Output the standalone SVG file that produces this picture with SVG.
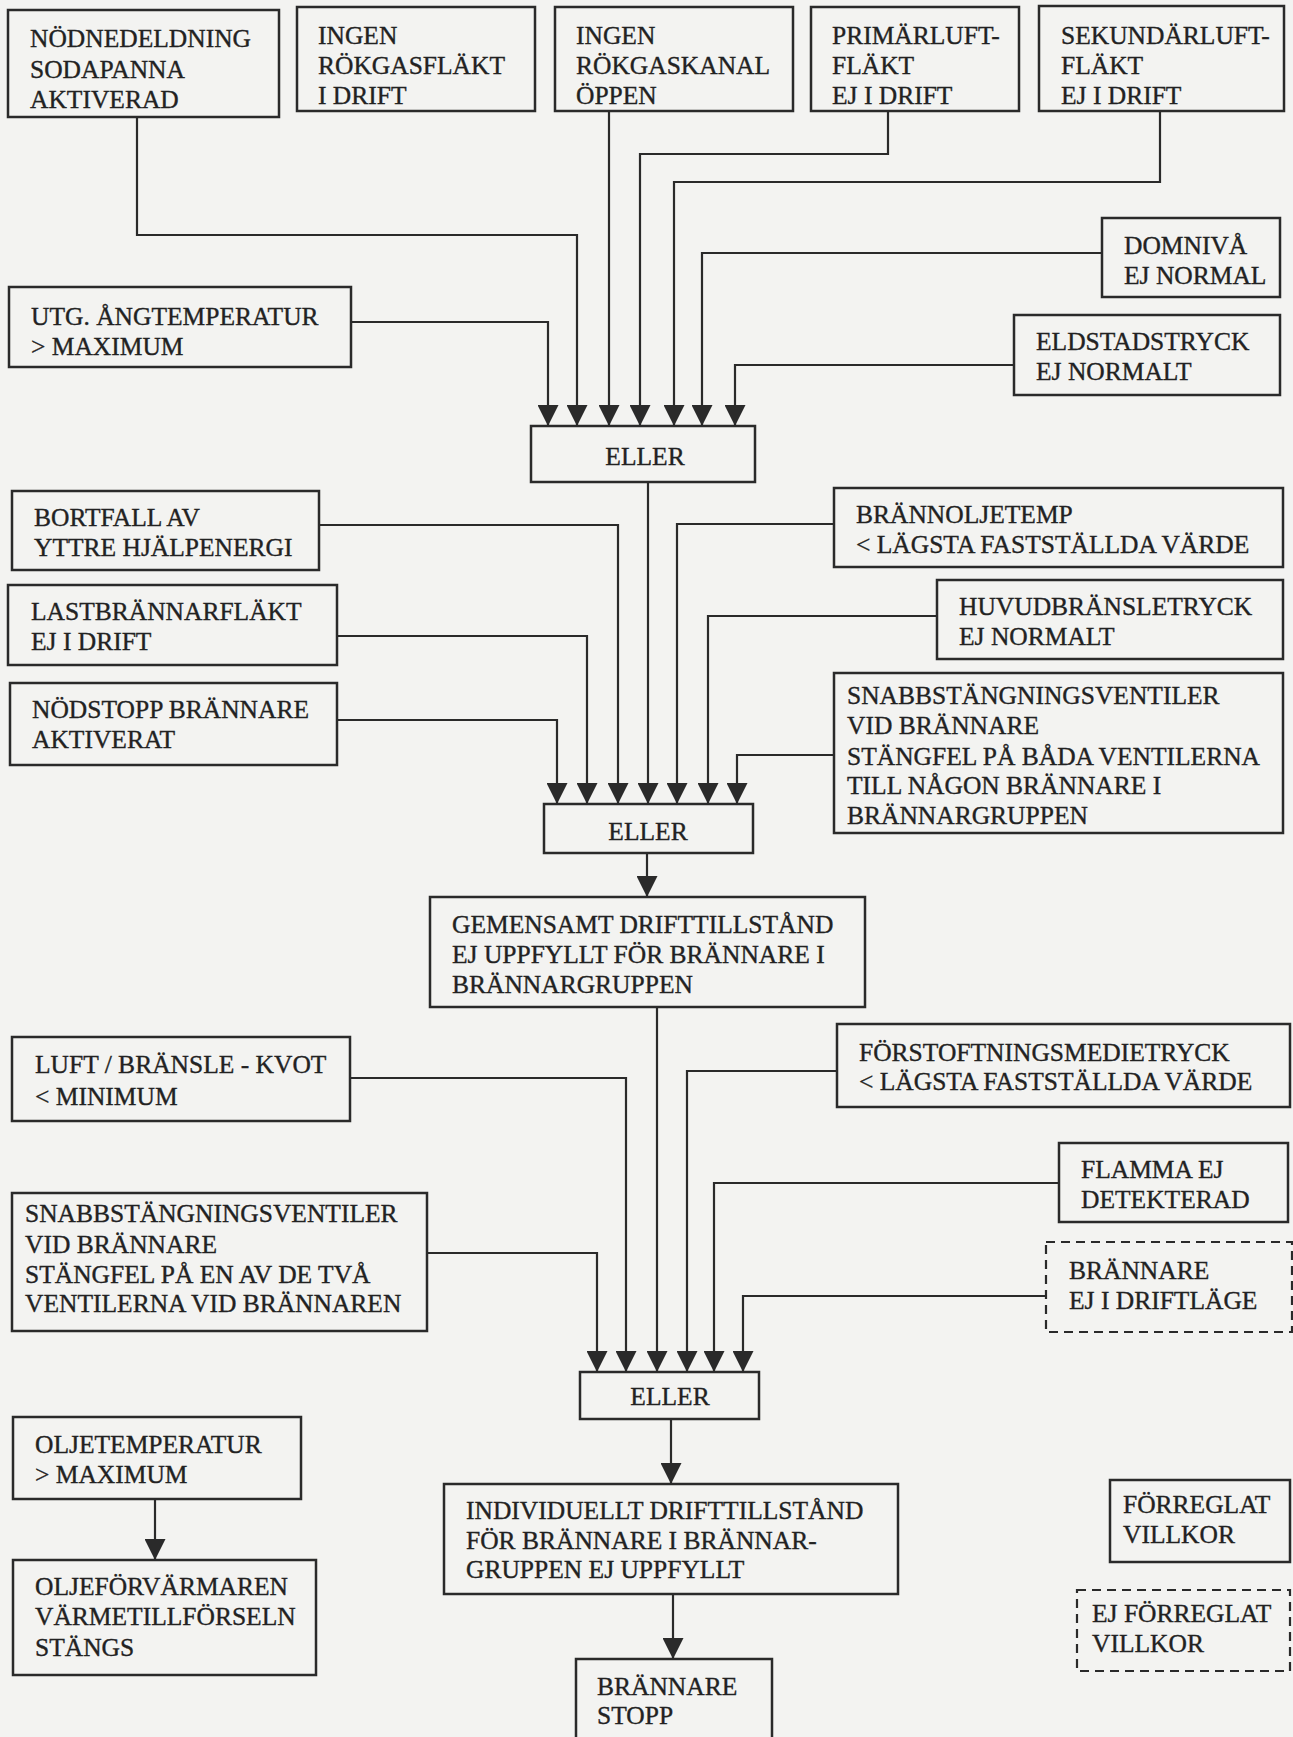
<svg xmlns="http://www.w3.org/2000/svg" width="1293" height="1737" viewBox="0 0 1293 1737">
<style>
.b{fill:none;stroke:#2a2a2a;stroke-width:2.5}
.d{fill:none;stroke:#2a2a2a;stroke-width:2.2;stroke-dasharray:9 6}
.c{fill:none;stroke:#2a2a2a;stroke-width:2.2}
text{font-family:"Liberation Serif","Times New Roman",serif;font-size:25.5px;fill:#222;stroke:#222;stroke-width:0.35}
.m{text-anchor:middle}
</style>
<defs>
<marker id="ah" viewBox="0 0 20 20" refX="20" refY="10" markerWidth="21" markerHeight="21" markerUnits="userSpaceOnUse" orient="auto">
<path d="M0,0 L20,10 L0,20 z" fill="#2a2a2a"/>
</marker>
</defs>
<rect x="0" y="0" width="1293" height="1737" fill="#f3f3f1"/>

<g id="connectors">
<path class="c" d="M137,117 V235 H577 V426" marker-end="url(#ah)"/>
<path class="c" d="M351,322 H548 V426" marker-end="url(#ah)"/>
<path class="c" d="M609,111 V426" marker-end="url(#ah)"/>
<path class="c" d="M888,111 V154 H640 V426" marker-end="url(#ah)"/>
<path class="c" d="M1160,111 V182 H674 V426" marker-end="url(#ah)"/>
<path class="c" d="M1102,253 H702 V426" marker-end="url(#ah)"/>
<path class="c" d="M1014,365 H735 V426" marker-end="url(#ah)"/>

<path class="c" d="M319,525 H618 V804" marker-end="url(#ah)"/>
<path class="c" d="M337,636 H587 V804" marker-end="url(#ah)"/>
<path class="c" d="M337,720 H557 V804" marker-end="url(#ah)"/>
<path class="c" d="M648,482 V804" marker-end="url(#ah)"/>
<path class="c" d="M834,524 H677 V804" marker-end="url(#ah)"/>
<path class="c" d="M937,616 H708 V804" marker-end="url(#ah)"/>
<path class="c" d="M834,755 H737 V804" marker-end="url(#ah)"/>

<path class="c" d="M647,853 V897" marker-end="url(#ah)"/>

<path class="c" d="M350,1078 H626 V1372" marker-end="url(#ah)"/>
<path class="c" d="M427,1253 H597 V1372" marker-end="url(#ah)"/>
<path class="c" d="M657,1007 V1372" marker-end="url(#ah)"/>
<path class="c" d="M837,1071 H687 V1372" marker-end="url(#ah)"/>
<path class="c" d="M1059,1183 H714 V1372" marker-end="url(#ah)"/>
<path class="c" d="M1046,1296 H743 V1372" marker-end="url(#ah)"/>

<path class="c" d="M671,1419 V1484" marker-end="url(#ah)"/>
<path class="c" d="M673,1594 V1659" marker-end="url(#ah)"/>
<path class="c" d="M155,1499 V1560" marker-end="url(#ah)"/>
</g>

<g id="n-nodnedeldning"><rect class="b" x="8" y="10" width="271" height="107"/>
<text x="30" y="47">NÖDNEDELDNING</text><text x="30" y="78">SODAPANNA</text><text x="30" y="108">AKTIVERAD</text></g>

<g id="n-rokgasflakt"><rect class="b" x="297" y="7" width="238" height="104"/>
<text x="318" y="44">INGEN</text><text x="318" y="74">RÖKGASFLÄKT</text><text x="318" y="104">I DRIFT</text></g>

<g id="n-rokgaskanal"><rect class="b" x="555" y="7" width="238" height="104"/>
<text x="576" y="44">INGEN</text><text x="576" y="74">RÖKGASKANAL</text><text x="576" y="104">ÖPPEN</text></g>

<g id="n-primarluft"><rect class="b" x="811" y="7" width="208" height="104"/>
<text x="832" y="44">PRIMÄRLUFT-</text><text x="832" y="74">FLÄKT</text><text x="832" y="104">EJ I DRIFT</text></g>

<g id="n-sekundarluft"><rect class="b" x="1039" y="6" width="245" height="105"/>
<text x="1061" y="44">SEKUNDÄRLUFT-</text><text x="1061" y="74">FLÄKT</text><text x="1061" y="104">EJ I DRIFT</text></g>

<g id="n-domniva"><rect class="b" x="1102" y="218" width="178" height="79"/>
<text x="1124" y="254">DOMNIVÅ</text><text x="1124" y="284">EJ NORMAL</text></g>

<g id="n-eldstadstryck"><rect class="b" x="1014" y="315" width="266" height="80"/>
<text x="1036" y="350">ELDSTADSTRYCK</text><text x="1036" y="380">EJ NORMALT</text></g>

<g id="n-utg"><rect class="b" x="9" y="287" width="342" height="80"/>
<text x="31" y="325">UTG. ÅNGTEMPERATUR</text><text x="31" y="355">&gt; MAXIMUM</text></g>

<g id="n-eller1"><rect class="b" x="531" y="426" width="224" height="56"/>
<text class="m" x="645" y="465">ELLER</text></g>

<g id="n-bortfall"><rect class="b" x="12" y="491" width="307" height="79"/>
<text x="34" y="526">BORTFALL AV</text><text x="34" y="556">YTTRE HJÄLPENERGI</text></g>

<g id="n-lastbrannarflakt"><rect class="b" x="8" y="585" width="329" height="80"/>
<text x="31" y="620">LASTBRÄNNARFLÄKT</text><text x="31" y="650">EJ I DRIFT</text></g>

<g id="n-nodstopp"><rect class="b" x="10" y="683" width="327" height="82"/>
<text x="32" y="718">NÖDSTOPP BRÄNNARE</text><text x="32" y="748">AKTIVERAT</text></g>

<g id="n-brannoljetemp"><rect class="b" x="834" y="488" width="449" height="79"/>
<text x="856" y="523">BRÄNNOLJETEMP</text><text x="856" y="553">&lt; LÄGSTA FASTSTÄLLDA VÄRDE</text></g>

<g id="n-huvudbransletryck"><rect class="b" x="937" y="580" width="346" height="79"/>
<text x="959" y="615">HUVUDBRÄNSLETRYCK</text><text x="959" y="645">EJ NORMALT</text></g>

<g id="n-snabb-bada"><rect class="b" x="834" y="673" width="449" height="160"/>
<text x="847" y="704">SNABBSTÄNGNINGSVENTILER</text><text x="847" y="734">VID BRÄNNARE</text><text x="847" y="765">STÄNGFEL PÅ BÅDA VENTILERNA</text><text x="847" y="794">TILL NÅGON BRÄNNARE I</text><text x="847" y="824">BRÄNNARGRUPPEN</text></g>

<g id="n-eller2"><rect class="b" x="544" y="804" width="209" height="49"/>
<text class="m" x="648" y="840">ELLER</text></g>

<g id="n-gemensamt"><rect class="b" x="430" y="897" width="435" height="110"/>
<text x="452" y="933">GEMENSAMT DRIFTTILLSTÅND</text><text x="452" y="963">EJ UPPFYLLT FÖR BRÄNNARE I</text><text x="452" y="993">BRÄNNARGRUPPEN</text></g>

<g id="n-luftbransle"><rect class="b" x="12" y="1037" width="338" height="84"/>
<text x="35" y="1073">LUFT / BRÄNSLE - KVOT</text><text x="35" y="1105">&lt; MINIMUM</text></g>

<g id="n-snabb-en"><rect class="b" x="12" y="1193" width="415" height="138"/>
<text x="25" y="1222">SNABBSTÄNGNINGSVENTILER</text><text x="25" y="1253">VID BRÄNNARE</text><text x="25" y="1283">STÄNGFEL PÅ EN AV DE TVÅ</text><text x="25" y="1312">VENTILERNA VID BRÄNNAREN</text></g>

<g id="n-forstoftning"><rect class="b" x="837" y="1024" width="453" height="83"/>
<text x="859" y="1061">FÖRSTOFTNINGSMEDIETRYCK</text><text x="859" y="1090">&lt; LÄGSTA FASTSTÄLLDA VÄRDE</text></g>

<g id="n-flamma"><rect class="b" x="1059" y="1143" width="229" height="79"/>
<text x="1081" y="1178">FLAMMA  EJ</text><text x="1081" y="1208">DETEKTERAD</text></g>

<g id="n-brannare-driftlage"><rect class="d" x="1046" y="1242" width="246" height="90"/>
<text x="1069" y="1279">BRÄNNARE</text><text x="1069" y="1309">EJ  I DRIFTLÄGE</text></g>

<g id="n-eller3"><rect class="b" x="580" y="1372" width="179" height="47"/>
<text class="m" x="670" y="1405">ELLER</text></g>

<g id="n-individuellt"><rect class="b" x="444" y="1484" width="454" height="110"/>
<text x="466" y="1519">INDIVIDUELLT DRIFTTILLSTÅND</text><text x="466" y="1549">FÖR BRÄNNARE  I BRÄNNAR-</text><text x="466" y="1578">GRUPPEN EJ UPPFYLLT</text></g>

<g id="n-brannare-stopp"><rect class="b" x="576" y="1659" width="196" height="90"/>
<text x="597" y="1695">BRÄNNARE</text><text x="597" y="1724">STOPP</text></g>

<g id="n-oljetemperatur"><rect class="b" x="13" y="1417" width="288" height="82"/>
<text x="35" y="1453">OLJETEMPERATUR</text><text x="35" y="1483">&gt; MAXIMUM</text></g>

<g id="n-oljeforvarmaren"><rect class="b" x="13" y="1560" width="303" height="115"/>
<text x="35" y="1595">OLJEFÖRVÄRMAREN</text><text x="35" y="1625">VÄRMETILLFÖRSELN</text><text x="35" y="1656">STÄNGS</text></g>

<g id="n-forreglat"><rect class="b" x="1110" y="1480" width="180" height="82"/>
<text x="1123" y="1513">FÖRREGLAT</text><text x="1123" y="1543">VILLKOR</text></g>

<g id="n-ej-forreglat"><rect class="d" x="1077" y="1590" width="213" height="81"/>
<text x="1092" y="1622">EJ FÖRREGLAT</text><text x="1092" y="1652">VILLKOR</text></g>
</svg>
